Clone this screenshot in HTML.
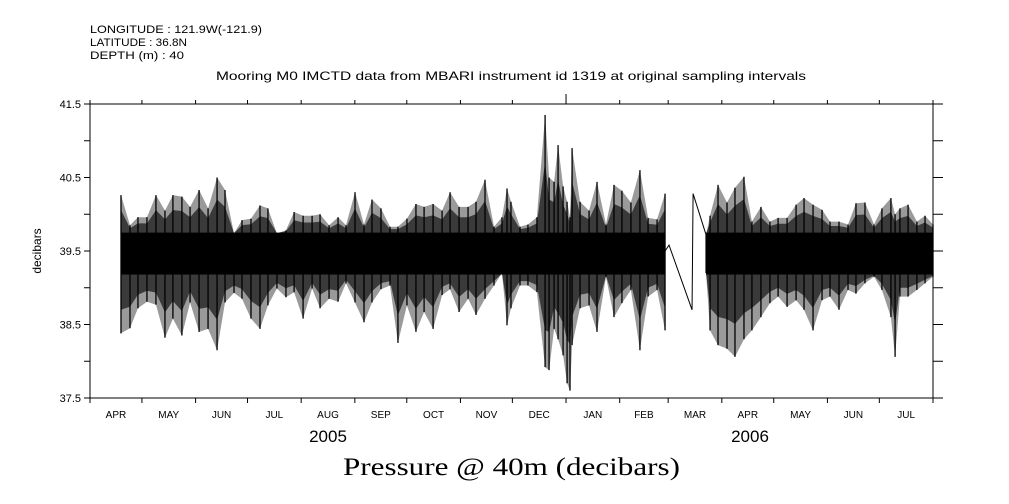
<!DOCTYPE html>
<html><head><meta charset="utf-8">
<style>
html,body{margin:0;padding:0;background:#fff;}
svg{display:block;font-family:"Liberation Sans",sans-serif;}
</style></head>
<body>
<svg id="chart" width="1009" height="504" viewBox="0 0 1009 504" xmlns="http://www.w3.org/2000/svg">
<g font-size="11" fill="#000">
<text x="90" y="33" textLength="172" lengthAdjust="spacingAndGlyphs">LONGITUDE : 121.9W(-121.9)</text>
<text x="90" y="46" textLength="97" lengthAdjust="spacingAndGlyphs">LATITUDE : 36.8N</text>
<text x="90" y="59" textLength="94" lengthAdjust="spacingAndGlyphs">DEPTH (m) : 40</text>
</g>
<text x="216" y="80" font-size="12" textLength="590" lengthAdjust="spacingAndGlyphs">Mooring M0 IMCTD data from MBARI instrument id 1319 at original sampling intervals</text>
<text transform="translate(41,251) rotate(-90)" font-size="12" text-anchor="middle">decibars</text>
<text x="343" y="475" font-size="25" textLength="337" lengthAdjust="spacingAndGlyphs" font-family="Liberation Serif, serif">Pressure @ 40m (decibars)</text>
<text x="328" y="442" font-size="17" text-anchor="middle">2005</text>
<text x="750" y="442" font-size="17" text-anchor="middle">2006</text>
<g id="plot"></g>
</svg>
<script>
const days = [17.9,23.1,27.7,32.9,38.1,43.3,47.9,53.1,57.8,63.0,68.2,73.4,78.0,83.2,87.8,93.0,98.2,102.8,108.0,113.2,117.9,123.1,128.3,132.9,138.1,143.3,147.9,153.1,158.3,162.9,168.1,173.3,177.9,183.1,188.3,193.0,198.2,203.4,208.0,213.2,218.4,223.0,228.2,233.4,238.0,240.9,243.2,248.4,253.0,258.2,262.9,265.2,268.1,270.4,273.3,275.6,277.3,278.5,283.1,288.3,292.9,298.1,302.7,307.3,312.5,317.7,322.4,327.6,332.2];
const hiVals = [40.26,39.85,39.96,39.96,40.26,40.05,40.26,40.24,40.1,40.33,40.08,40.5,40.33,39.74,39.92,39.94,40.12,40.08,39.74,39.78,40.03,39.98,39.98,40.0,39.85,39.96,39.85,40.3,39.86,40.2,40.08,39.83,39.83,39.94,40.14,40.1,40.14,40.05,40.3,40.1,40.1,40.17,40.47,39.83,39.96,40.35,40.17,39.83,39.86,39.96,41.35,40.5,40.44,40.94,40.38,40.17,39.96,40.9,40.17,40.05,40.44,39.86,40.4,40.32,40.16,40.6,39.95,39.93,40.28];
const loVals = [38.38,38.45,38.72,38.81,38.77,38.32,38.58,38.35,38.8,38.4,38.44,38.15,38.8,38.93,38.85,38.58,38.44,38.76,38.99,38.87,38.94,38.58,38.99,38.72,38.85,38.81,39.06,38.8,38.53,38.8,38.98,39.03,38.25,38.76,38.4,38.67,38.44,38.9,38.98,38.67,38.85,38.63,38.85,39.03,39.2,38.49,38.72,39.03,39.03,38.94,37.92,37.88,38.44,38.3,38.08,37.7,37.6,38.22,38.72,38.76,38.4,39.15,38.6,38.79,38.97,38.15,38.88,38.97,38.42];
const days2 = [355.9,358.2,362.8,368.0,372.6,377.8,382.4,387.6,392.8,397.5,402.7,407.9,412.5,417.7,422.9,427.5,432.7,437.9,442.5,447.7,452.9,457.5,462.7,465.1,467.9,472.6,477.7,482.4,487];
const hiVals2 = [39.72,39.98,40.4,40.16,40.36,40.51,39.9,40.1,39.9,39.95,39.95,40.13,40.22,40.13,40.06,39.9,39.9,39.86,40.15,40.16,39.86,40.08,40.22,40.0,40.08,40.13,39.9,39.98,39.86];
const loVals2 = [39.2,38.42,38.22,38.17,38.06,38.3,38.42,38.6,38.79,38.88,38.74,38.83,38.7,38.42,38.83,38.88,38.7,38.97,38.92,39.06,39.15,38.97,38.6,38.06,38.88,38.88,38.97,39.06,39.15];
const gapDays = [332.2,334.5,347.8,348.4,355.9];
const gapVals = [39.5,39.58,38.7,40.28,39.72];
const coreHi = 39.75, coreLo = 39.18;
const yTicks = [41.5,40.5,39.5,38.5,37.5];
const yMinor = [41,40,39,38];
const monthStarts = [0,30,61,91,122,153,183,214,244,275,306,334,365,395,426,456,487];
const monthLabels = ["APR","MAY","JUN","JUL","AUG","SEP","OCT","NOV","DEC","JAN","FEB","MAR","APR","MAY","JUN","JUL"];

const X0=90,X1=933,Y0=104,Y1=398,DMAX=487,VMIN=37.5,VMAX=41.5;
const xs = d => X0 + d*(X1-X0)/DMAX;
const ys = v => Y0 + (VMAX-v)*(Y1-Y0)/(VMAX-VMIN);
const NS="http://www.w3.org/2000/svg";
const plot=document.getElementById('plot');
function mk(tag,attrs){const e=document.createElementNS(NS,tag);for(const k in attrs)e.setAttribute(k,attrs[k]);plot.appendChild(e);return e;}

function envPoly(D,H,L,f,fill,name){
  let pts=D.map((d,i)=>xs(d).toFixed(1)+','+ys(coreHi+(H[i]-coreHi)*f).toFixed(1));
  for(let i=D.length-1;i>=0;i--)pts.push(xs(D[i]).toFixed(1)+','+ys(coreLo+(L[i]-coreLo)*f).toFixed(1));
  const env=mk('polygon',{points:pts.join(' '),fill:fill});
  
  
}
function drawSeg(D,H,L,name){
  envPoly(D,H,L,1,'#9a9a9a',name+'-envelope');
  envPoly(D,H,L,0.6,'#3a3a3a',name+'-inner-envelope');
  const x0=xs(D[0]),x1=xs(D[D.length-1]);
  const core=mk('rect',{x:x0,y:ys(coreHi),width:x1-x0,height:ys(coreLo)-ys(coreHi),fill:'#000'});
  
  
  D.forEach((d,i)=>{
    const l=mk('line',{x1:xs(d),x2:xs(d),y1:ys(H[i]),y2:ys(L[i]),stroke:'#000','stroke-width':1.3});
    
    
  });
}
drawSeg(days,hiVals,loVals,'series-2005');
drawSeg(days2,hiVals2,loVals2,'series-2006');
const gp=mk('polyline',{points:gapDays.map((d,i)=>xs(d)+','+ys(gapVals[i])).join(' '),fill:'none',stroke:'#000','stroke-width':1});



const fr=mk('rect',{x:X0,y:Y0,width:X1-X0,height:Y1-Y0,fill:'none',stroke:'#000','stroke-width':1});



yTicks.concat(yMinor).forEach(v=>{
  const y=ys(v);
  const t=mk('line',{x1:X0-6,x2:X0,y1:y,y2:y,stroke:'#000'});
  
  
  const r=mk('line',{x1:X1,x2:X1+10,y1:y,y2:y,stroke:'#000'});
  
  
});
yTicks.forEach(v=>{
  const t=mk('text',{x:X0-9,y:ys(v)+4,'font-size':11,'text-anchor':'end'});
  t.textContent=v.toFixed(1);
  
  
});
monthStarts.forEach((d,i)=>{
  const x=xs(d);
  const b=mk('line',{x1:x,x2:x,y1:Y1,y2:Y1+5,stroke:'#000'});
  
  
  const t=mk('line',{x1:x,x2:x,y1:(d===275?Y0-10:Y0-4),y2:Y0,stroke:'#000'});
  
  
  if(i<monthLabels.length){
    const tx=mk('text',{x:(x+xs(monthStarts[i+1]))/2,y:418,'font-size':10,'text-anchor':'middle'});
    tx.textContent=monthLabels[i];
    
    
  }
});
</script>
</body></html>
